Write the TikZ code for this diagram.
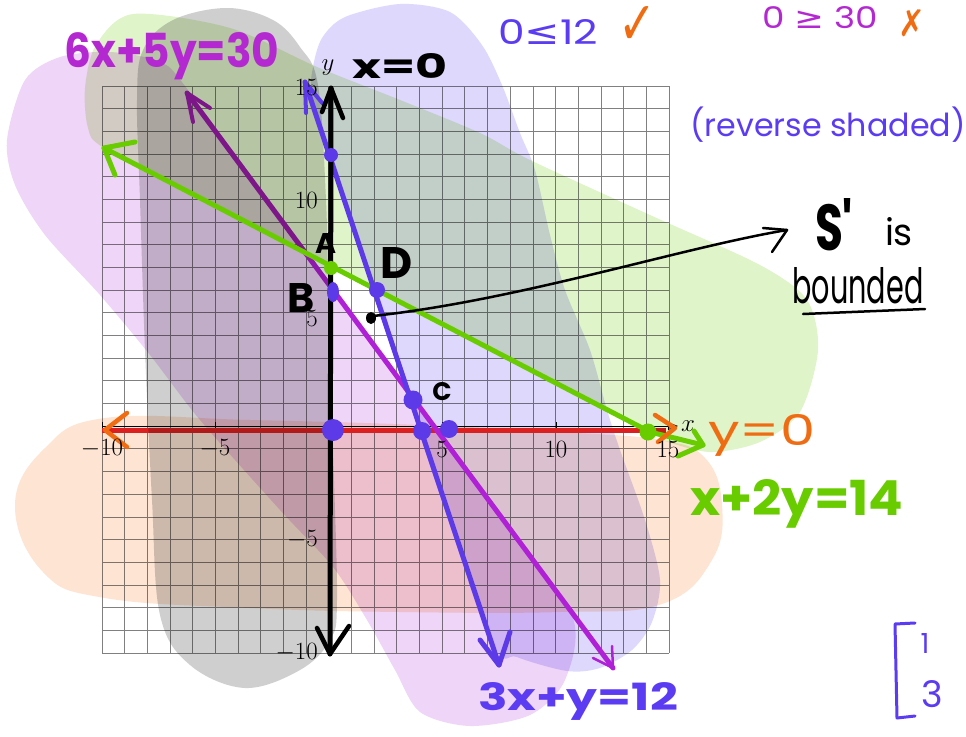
\documentclass[tikz,border=0pt]{standalone}
\usepackage{fontspec}
\usepackage{graphicx}
\newfontfamily\hand{Poppins}
\newfontfamily\sym{DejaVu Sans}
\usetikzlibrary{arrows.meta}
\definecolor{hwpurple}{RGB}{180,40,210}
\definecolor{hwblue}{RGB}{92,60,242}
\definecolor{hworange}{RGB}{240,108,18}
\definecolor{hwgreen}{RGB}{104,204,0}
\definecolor{lnblue}{RGB}{92,58,232}
\definecolor{lnpurple}{RGB}{176,32,214}
\definecolor{lnred}{RGB}{220,32,32}
\definecolor{bgreen}{RGB}{200,235,160}
\definecolor{blav}{RGB}{180,170,250}
\definecolor{bpurp}{RGB}{215,150,235}
\definecolor{bgray}{RGB}{150,150,150}
\definecolor{bpeach}{RGB}{250,180,130}
\begin{document}
\begin{tikzpicture}[x=1pt,y=-1pt,
  gridln/.style={draw={rgb,255:red,128;green,128;blue,128},line width=0.8pt},
  stroke/.style={line cap=round,line join=round},
  ticklab/.style={inner sep=0pt,font=\fontsize{27}{30}\selectfont},
  hwtext/.style={inner sep=0pt,anchor=base,font=\hand\fontsize{40}{48}\selectfont},
  dotb/.style={fill=lnblue},
  blob/.style={fill opacity=#1}]
\useasboundingbox (0,0) rectangle (966,736);
\fill[white] (0,0) rectangle (966,736);
% grid
\foreach \i in {0,...,25}{
  \draw[gridln] ({102+22.68*\i},86) -- ({102+22.68*\i},653);
  \draw[gridln] (102,{86+22.68*\i}) -- (669,{86+22.68*\i});
}
% thin pgf axes
\draw[line width=1pt,-{Stealth[length=8pt]}] (102,426) -- (678,426);
\foreach \xx in {102,215,442,556,668}{\draw[line width=0.8pt] (\xx,422) -- (\xx,430);}
% blobs (first layer)
\begin{scope}[blend mode=multiply]
\fill[bpeach,blob=0.35] plot[smooth cycle,tension=0.7] coordinates {(15,505) (45,448) (105,418) (250,420) (420,425) (560,432) (660,440) (705,458) (722,505) (712,560) (662,604) (560,612) (400,612) (250,608) (105,598) (43,572)};
\fill[bpurp,blob=0.4] plot[smooth cycle,tension=0.5] coordinates {(7,140) (25,80) (60,57) (110,52) (160,62) (188,90) (300,245) (400,380) (500,515) (572,615) (565,680) (530,715) (470,726) (420,712) (395,670) (367,620) (333,567) (280,510) (200,420) (150,355) (100,295) (45,235) (15,185)};
\fill[blav,blob=0.45] plot[smooth cycle,tension=0.5] coordinates {(313,67) (322,38) (345,17) (400,4) (450,12) (482,45) (502,85) (520,133) (535,170) (550,235) (565,290) (590,350) (607,410) (620,450) (645,520) (660,580) (652,622) (632,650) (600,668) (567,671) (517,657) (492,640) (420,430) (377,290) (331,155) (312,95)};
\end{scope}
% red line y=0 and purple line
\coordinate (rl) at (102,430); \coordinate (rr) at (666,430);
\draw[lnred,line width=5pt] (rl) -- (rr);
\coordinate (pt) at (187,93); \coordinate (pb) at (613,668);
\draw[lnpurple,stroke,line width=5pt] (pt) -- (pb);
\draw[lnpurple,stroke,line width=4pt] (210,108) -- (pt) -- (193,122);
\draw[lnpurple,stroke,line width=2.5pt] (593,658) -- (pb) -- (612,646);
% blobs (second layer)
\begin{scope}[blend mode=multiply]
\fill[bgray,blob=0.45] plot[smooth cycle,tension=0.6] coordinates {(137,100) (143,50) (173,20) (227,8) (273,20) (300,47) (318,85) (326,200) (329,320) (333,450) (337,600) (330,640) (300,670) (245,688) (190,665) (160,615) (152,500) (145,350) (140,200)};
\fill[bgreen,blob=0.55] plot[smooth cycle,tension=0.5] coordinates {(85,88) (96,45) (133,14) (230,28) (317,67) (400,100) (480,133) (530,160) (650,215) (760,265) (807,300) (818,350) (800,412) (760,442) (710,452) (662,440) (650,432) (500,354) (330,267) (200,198) (104,148) (88,128)};
\end{scope}
% green line
\coordinate (gt) at (104,148); \coordinate (gm) at (650,432); \coordinate (gb) at (703,445);
\draw[hwgreen,stroke,line width=5pt] (gt) -- (gm) -- (gb);
\draw[hwgreen,stroke,line width=5pt] (135,142) -- (gt) -- (115,175);
\draw[hwgreen,stroke,line width=5pt] (694,431) -- (gb) -- (678,456);
% blue line
\coordinate (bt) at (305,82); \coordinate (bb) at (499,665);
\draw[lnblue,stroke,line width=5pt] (bt) -- (bb);
\draw[lnblue,stroke,line width=4pt] (306,113) -- (bt) -- (323,104);
\draw[lnblue,stroke,line width=5pt] (480,640) -- (bb) -- (510,632);
% orange arrow heads on y=0
\draw[hworange,stroke,line width=4.5pt] (127,413) -- (105,430) -- (127,447);
\draw[hworange,stroke,line width=4.5pt] (655,415) -- (675,428) -- (658,442);
% thick y axis
\coordinate (yt) at (331,88); \coordinate (yb) at (330,654);
\draw[black,stroke,line width=5pt] (yt) -- (yb);
\draw[black,stroke,line width=4.5pt] (322,112) -- (yt) -- (343,118);
\draw[black,stroke,line width=4.5pt] (317,628) -- (yb) -- (349,626);
% dots
\fill[hwgreen] (331,268) circle[radius=7];
\fill[hwgreen] (648,432) circle[radius=8.5];
\fill[dotb] (331,155) circle[radius=7];
\fill[dotb] (377,290) circle[radius=8];
\fill[dotb] (333,292) ellipse[x radius=6,y radius=10];
\fill[dotb] (413,400) circle[radius=9.5];
\fill[dotb] (333,430) circle[radius=11];
\fill[dotb] (422,431) circle[radius=9];
\fill[dotb] (449,429) circle[radius=9];
% tick labels
\node[ticklab] (tx1) at (102,449) {$-10$};
\node[ticklab] (tx2) at (215,449) {$-5$};
\node[ticklab] (tx3) at (442,449) {$5$};
\node[ticklab] (tx4) at (556,449) {$10$};
\node[ticklab] (tx5) at (668,449) {$15$};
\node[ticklab,anchor=east] (ty1) at (318,87) {$15$};
\node[ticklab,anchor=east] (ty2) at (318,200) {$10$};
\node[ticklab,anchor=east] (ty3) at (318,318) {$5$};
\node[ticklab,anchor=east] (ty4) at (318,540) {$-5$};
\node[ticklab,anchor=east] (ty5) at (318,653) {$-10$};
\node[ticklab] (xlab) at (688,426) {$x$};
\node[ticklab] (ylab) at (328,68) {$y$};
% S marker and arrow
\fill[black] (371,318) ellipse[x radius=5,y radius=6];
\coordinate (sdot) at (373,316); \coordinate (stip) at (787,230);
\draw[black,stroke,line width=2.5pt] (sdot) .. controls (520,300) and (680,248) .. (stip);
\draw[black,stroke,line width=2.5pt] (763,228) -- (stip) -- (772,252);
% handwritten labels (anchor = base)
\node[hwtext,text=hwpurple] (l6x) at (172,67) {\resizebox{215pt}{35pt}{\bfseries 6x+5y=30}};
\node[hwtext,text=black] (lx0) at (400,78) {\resizebox{95pt}{25pt}{\bfseries x=0}};
\node[hwtext,text=hwblue] (l012) at (548,45) {\resizebox{100pt}{25pt}{0{\sym≤}12}};
\node[hwtext,text=hworange] (lchk) at (637,44) {\resizebox{38pt}{38pt}{\sym ✓}};
\node[hwtext,text=hwpurple] (l030) at (820,28) {\resizebox{115pt}{22pt}{0 {\sym≥} 30}};
\node[hwtext,text=hworange] (lcross) at (912,36) {\resizebox{27pt}{27pt}{\sym ✗}};
\node[hwtext,text=hwblue] (lrev) at (828,136) {\resizebox{275pt}{!}{(reverse shaded)}};
\node[hwtext,text=black] (lS) at (834,250) {\resizebox{38pt}{52pt}{\bfseries S'}};
\node[hwtext,text=black] (lis) at (899,245) {\resizebox{28pt}{28pt}{is}};
\node[hwtext,text=black] (lbd) at (858,303) {\resizebox{131pt}{36pt}{bounded}};
\coordinate (u1) at (803,314); \coordinate (u2) at (925,309);
\draw[black,stroke,line width=2.5pt] (u1) -- (u2);
\node[hwtext,text=hworange] (ly0) at (762,445) {\resizebox{107pt}{31pt}{y=0}};
\node[hwtext,text=hwgreen] (lx2y) at (797,515) {\resizebox{213pt}{36pt}{\bfseries x+2y=14}};
\node[hwtext,text=hwblue] (l3xy) at (578,710) {\resizebox{200pt}{28pt}{\bfseries 3x+y=12}};
\node[hwtext,text=black] (lA) at (326,253) {\resizebox{!}{20pt}{\bfseries A}};
\node[hwtext,text=black] (lB) at (301,312) {\resizebox{!}{29pt}{\bfseries B}};
\node[hwtext,text=black] (lC) at (442,400) {\resizebox{!}{18pt}{\bfseries C}};
\node[hwtext,text=black] (lD) at (397,278) {\resizebox{!}{31pt}{\bfseries D}};
% bracket
\draw[hwblue,stroke,line width=3pt] (915,623) -- (895,624) -- (897,718) -- (915,716);
\node[hwtext,text=hwblue] (m1) at (925,653) {\resizebox{!}{20pt}{1}};
\node[hwtext,text=hwblue] (m3) at (932,707) {\resizebox{!}{27pt}{3}};
\end{tikzpicture}
\end{document}
